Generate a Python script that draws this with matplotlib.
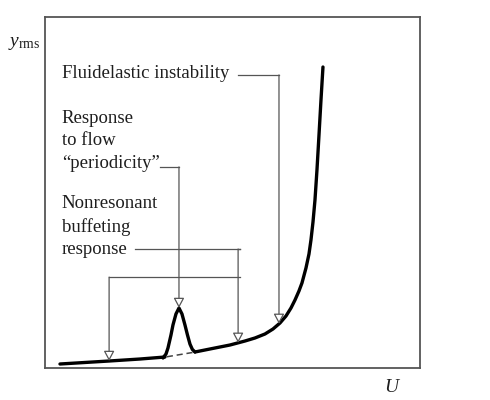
import numpy as np
import matplotlib.pyplot as plt

plt.rcParams['font.family'] = ['Liberation Serif', 'DejaVu Serif']
plt.rcParams['mathtext.fontset'] = 'custom'
plt.rcParams['mathtext.rm'] = 'Liberation Serif'
plt.rcParams['mathtext.it'] = 'Liberation Serif:italic'

# baseline response curve (U, y_rms)
base_u = [0.400, 1.707, 2.533, 3.200, 4.000, 4.533, 4.933, 5.333, 5.600, 5.867,
          6.080, 6.267, 6.427, 6.560, 6.667, 6.773, 6.853, 6.960, 7.040, 7.093,
          7.147, 7.200, 7.253, 7.307, 7.360, 7.413]
base_y = [0.114, 0.199, 0.256, 0.313, 0.456, 0.570, 0.655, 0.769, 0.855, 0.969,
          1.111, 1.282, 1.481, 1.709, 1.937, 2.194, 2.422, 2.849, 3.248, 3.647,
          4.160, 4.786, 5.641, 6.638, 7.635, 8.575]

# resonant peak from flow periodicity
peak_u = [3.147, 3.227, 3.280, 3.360, 3.413, 3.493, 3.573, 3.653, 3.733, 3.800,
          3.867, 3.930, 4.000]
peak_y = [0.285, 0.399, 0.570, 0.940, 1.225, 1.540, 1.709, 1.540, 1.225, 0.940,
          0.680, 0.530, 0.456]

# where the labels point
fluid_u = 6.24
buffet_u = [1.71, 5.15]

labels = ['Fluidelastic instability',
          'Response\nto flow\n\u201cperiodicity\u201d',
          'Nonresonant\nbuffeting\nresponse']

fig = plt.figure(figsize=(4.9, 4.0), dpi=100)
ax = fig.add_axes([0.0918, 0.08, 0.7653, 0.8775])
ax.set_xlim(0, 10)
ax.set_ylim(0, 10)
ax.set_xticks([])
ax.set_yticks([])
for s in ax.spines.values():
    s.set_color('#555555')
    s.set_linewidth(1.3)

bu = np.array(base_u)
by = np.array(base_y)
lo = bu <= 3.20
hi = bu >= 4.00
curve = dict(color='black', lw=2.4, solid_capstyle='round', solid_joinstyle='round')
ax.plot(bu[lo], by[lo], **curve)
ax.plot(bu[hi], by[hi], **curve)
ax.plot([3.25, 3.98], [0.32, 0.45], color='#444444', lw=1.1, ls=(0, (4, 2.5)))
ax.plot(peak_u, peak_y, **curve)

lc = '#555555'
arrow = dict(arrowstyle='-|>,head_length=0.6,head_width=0.32', color=lc,
             fc='white', lw=0.9, shrinkA=0, shrinkB=0)
txt = dict(fontsize=13.5, color='#1e1e1e', va='center', ha='left')

# fluidelastic instability
ax.text(0.45, 8.40, labels[0], **txt)
ax.plot([5.15, fluid_u], [8.35, 8.35], color=lc, lw=0.9)
ax.annotate('', xy=(fluid_u, np.interp(fluid_u, bu, by)), xytext=(fluid_u, 8.35),
            arrowprops=arrow)

# response to flow periodicity
tip = int(np.argmax(peak_y))
ax.text(0.45, 6.48, labels[1], linespacing=1.42, **txt)
ax.plot([3.07, peak_u[tip]], [5.73, 5.73], color=lc, lw=0.9)
ax.annotate('', xy=(peak_u[tip], peak_y[tip]), xytext=(peak_u[tip], 5.73),
            arrowprops=arrow)

# nonresonant buffeting
ax.text(0.45, 4.03, labels[2], linespacing=1.42, **txt)
ax.plot([2.40, 5.20], [3.39, 3.39], color=lc, lw=0.9)
ax.plot([buffet_u[0], 5.20], [2.59, 2.59], color=lc, lw=0.9)
ax.annotate('', xy=(buffet_u[0], np.interp(buffet_u[0], bu, by)), xytext=(buffet_u[0], 2.59),
            arrowprops=arrow)
ax.annotate('', xy=(buffet_u[1], np.interp(buffet_u[1], bu, by)), xytext=(buffet_u[1], 3.39),
            arrowprops=arrow)
ax.plot([5.20, buffet_u[1]], [3.39, 3.39], color=lc, lw=0.9)

fig.text(8 / 490, 1 - 44 / 400, r'$y_{\rm rms}$', fontsize=14, va='center', ha='left', color='#1e1e1e')
fig.text(393 / 490, 1 - 387 / 400, r'$U$', fontsize=14, va='center', ha='center', color='#1e1e1e')

plt.savefig('out.png', dpi=100)
